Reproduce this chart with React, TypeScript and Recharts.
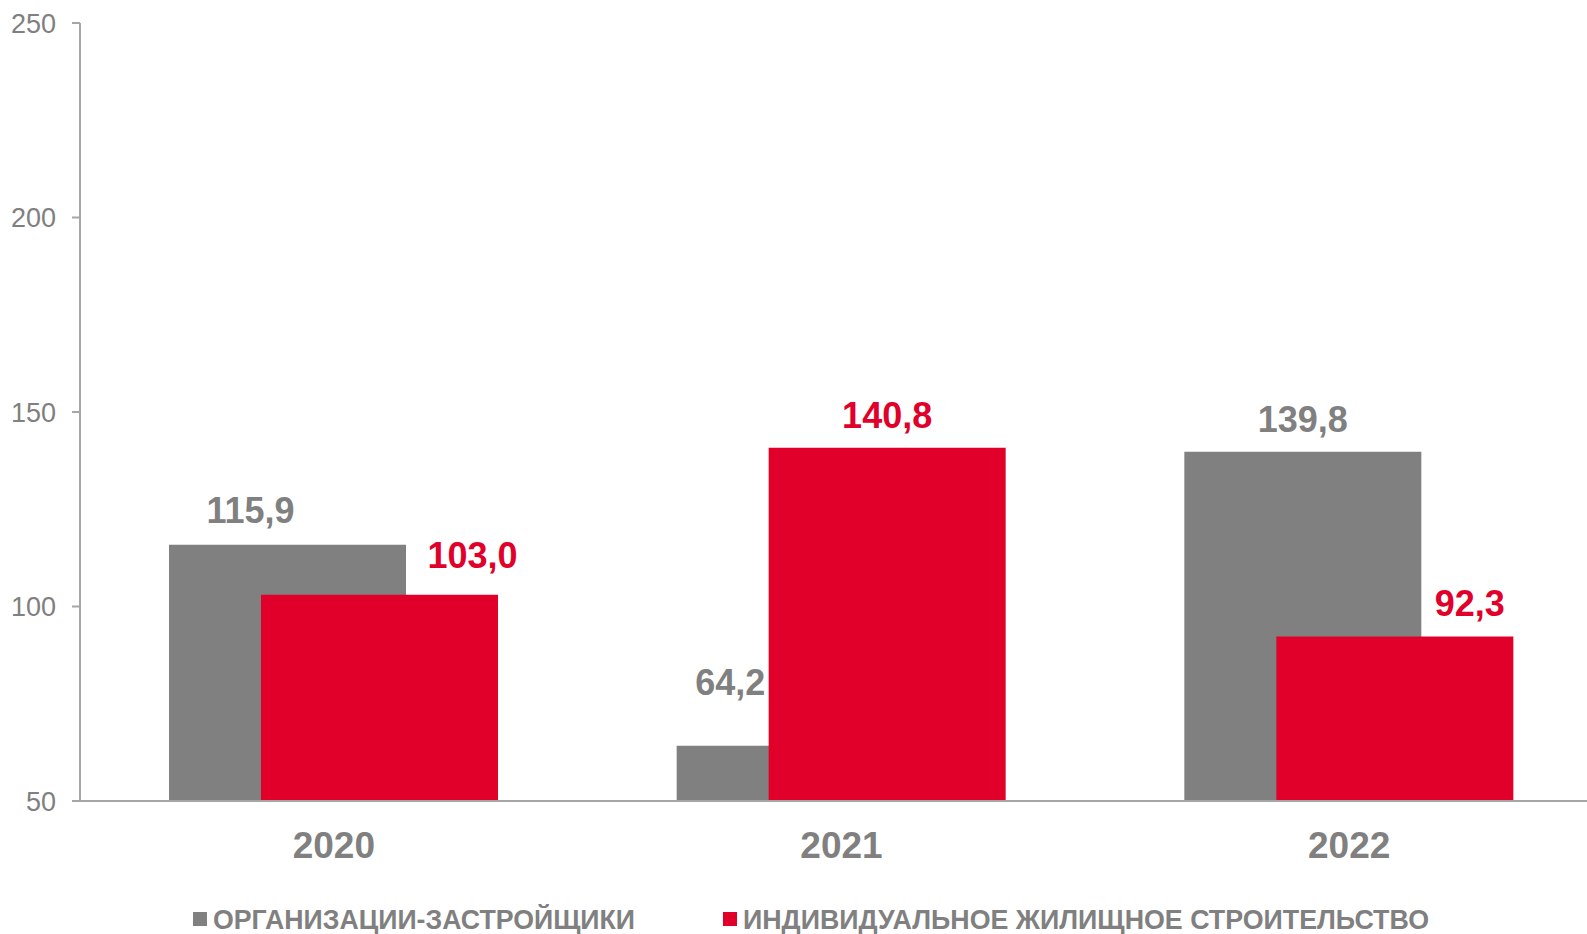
import { BarChart, Bar, XAxis, YAxis, LabelList, Legend } from "recharts";

// Chart data
const years = ["2020", "2021", "2022"];
const developers = [115.9, 64.2, 139.8];
const individual = [103.0, 140.8, 92.3];
const seriesNames = ["ОРГАНИЗАЦИИ-ЗАСТРОЙЩИКИ", "ИНДИВИДУАЛЬНОЕ ЖИЛИЩНОЕ СТРОИТЕЛЬСТВО"];
const yTicks = [50, 100, 150, 200, 250];

const GRAY = "#808080";
const RED = "#e0002a";
const AXIS = "#a6a6a6";
const FONT = "Arial, 'Liberation Sans', sans-serif";

const data = years.map((year, i) => ({
  year,
  dev: developers[i],
  ind: individual[i],
}));

const fmt = (v: number) => v.toFixed(1).replace(".", ",");

// hand-placed label nudges, as in the original layout
const devShift = [[-37, -2], [-65, -31], [0, 0]];
const indShift = [[93, -7], [0, 0], [75, 0]];

function makeLabel(color: string, shift: number[][]) {
  return (props: any) => {
    const { x, y, width, value, index } = props;
    const [dx, dy] = shift[index] ?? [0, 0];
    return (
      <text
        x={x + width / 2 + dx}
        y={y - 20 + dy}
        textAnchor="middle"
        fill={color}
        fontFamily={FONT}
        fontWeight="bold"
        fontSize={36}
      >
        {fmt(value)}
      </text>
    );
  };
}

function YearTick({ x, y, payload }: any) {
  return (
    <text x={x} y={y + 49} textAnchor="middle" fill={GRAY} fontFamily={FONT} fontWeight="bold" fontSize={37}>
      {payload.value}
    </text>
  );
}

// legend keeps series order fixed: gray first, red second
function LegendBox() {
  const colors = [GRAY, RED];
  const starts = [193, 723];
  const widths = [422, 686];
  return (
    <svg width={1587} height={34} style={{ display: "block" }}>
      {seriesNames.map((name, i) => (
        <g key={name}>
          <rect x={starts[i]} y={12} width={14} height={14} fill={colors[i]} />
          <text
            x={starts[i] + 20}
            y={29}
            fill={GRAY}
            fontFamily={FONT}
            fontWeight="bold"
            fontSize={27}
            textLength={widths[i]}
            lengthAdjust="spacingAndGlyphs"
          >
            {name}
          </text>
        </g>
      ))}
    </svg>
  );
}

export default function App() {
  return (
    <div
      style={{
        position: "fixed",
        left: 0,
        top: 0,
        width: 1587,
        height: 934,
        overflow: "hidden",
        background: "#fff",
      }}
    >
      <BarChart
        width={1603}
        height={934}
        data={data}
        margin={{ top: 23, right: 0, bottom: 19, left: 0 }}
        barSize={237}
        barGap={-145}
      >
        <XAxis
          dataKey="year"
          tickLine={false}
          axisLine={{ stroke: AXIS, strokeWidth: 2 }}
          tick={<YearTick />}
          height={80}
          interval={0}
        />
        <YAxis
          type="number"
          domain={[50, 250]}
          ticks={yTicks}
          allowDataOverflow
          width={80}
          tickSize={8}
          tickMargin={16}
          axisLine={{ stroke: AXIS, strokeWidth: 2 }}
          tickLine={{ stroke: AXIS, strokeWidth: 2 }}
          tick={{ fill: GRAY, fontFamily: FONT, fontSize: 27 }}
        />
        <Legend
          verticalAlign="bottom"
          content={<LegendBox />}
          wrapperStyle={{ left: 0, top: 900, bottom: "auto", width: 1587, height: 34 }}
        />
        <Bar dataKey="dev" name={seriesNames[0]} fill={GRAY} isAnimationActive={false}>
          <LabelList dataKey="dev" content={makeLabel(GRAY, devShift)} />
        </Bar>
        <Bar dataKey="ind" name={seriesNames[1]} fill={RED} isAnimationActive={false}>
          <LabelList dataKey="ind" content={makeLabel(RED, indShift)} />
        </Bar>
      </BarChart>
    </div>
  );
}
